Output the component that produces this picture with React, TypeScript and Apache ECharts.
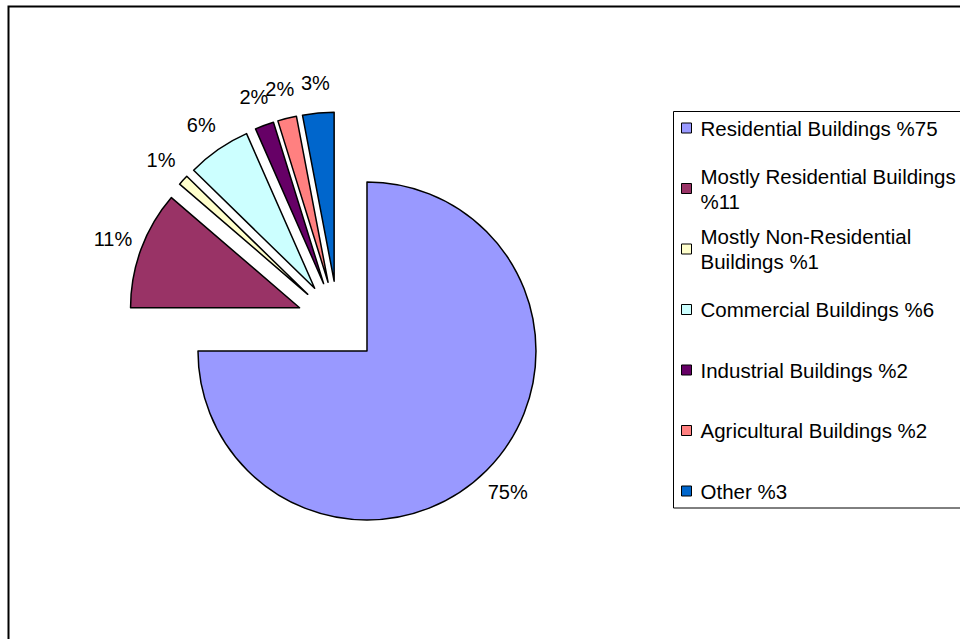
import React, { useEffect, useRef } from 'react';
import * as echarts from 'echarts';

// ---- data ----
const categories = [
  'Residential Buildings %75',
  'Mostly Residential Buildings %11',
  'Mostly Non-Residential Buildings %1',
  'Commercial Buildings %6',
  'Industrial Buildings %2',
  'Agricultural Buildings %2',
  'Other %3',
];
const legendLabels = [
  'Residential Buildings %75',
  'Mostly Residential Buildings\n%11',
  'Mostly Non-Residential\nBuildings %1',
  'Commercial Buildings %6',
  'Industrial Buildings %2',
  'Agricultural Buildings %2',
  'Other %3',
];
const values = [75, 11.3, 1.0, 6.1, 1.8, 1.8, 3.0];
const colors = ['#9999FF', '#993366', '#FFFFCC', '#CCFFFF', '#660066', '#FF8080', '#0066CC'];

// ---- geometry / style ----
const CENTER = [338, 322];
const RADIUS = 169;
const EXPLODE = 41;
const LABEL_DIST = 240;
const FONT = 'Liberation Sans, Arial, Helvetica, sans-serif';

function buildOption() {
  const total = values.reduce((a, b) => a + b, 0);
  let cum = 0;
  const dirs = values.map((v) => {
    const mid = ((cum + v / 2) / total) * Math.PI * 2;
    cum += v;
    return [Math.sin(mid), -Math.cos(mid)];
  });

  const series = values.map((_, i) => {
    const [ux, uy] = dirs[i];
    const lx = CENTER[0] + LABEL_DIST * ux;
    const ly = CENTER[1] + LABEL_DIST * uy;
    return {
      type: 'pie',
      silent: true,
      center: [CENTER[0] + EXPLODE * ux, CENTER[1] + EXPLODE * uy],
      radius: RADIUS,
      startAngle: 90,
      clockwise: true,
      avoidLabelOverlap: false,
      emphasis: { disabled: true },
      label: { show: false },
      labelLine: { show: false },
      data: categories.map((name, j) =>
        j === i
          ? {
              name,
              value: values[j],
              itemStyle: { color: colors[j], borderColor: '#000', borderWidth: 1.5 },
              label: {
                show: true,
                position: 'outside',
                formatter: (p: any) => Math.round(p.percent) + '%',
                fontFamily: FONT,
                fontSize: 20,
                color: '#000',
              },
              labelLine: { show: false },
            }
          : {
              name,
              value: values[j],
              itemStyle: { color: 'transparent', borderWidth: 0 },
              label: { show: false },
              labelLine: { show: false },
            }
      ),
      labelLayout: () => ({ x: lx, y: ly, align: 'center', verticalAlign: 'middle' }),
    };
  });

  return {
    animation: false,
    backgroundColor: '#fff',
    legend: {
      orient: 'vertical',
      left: 681,
      top: 90.5,
      padding: 0,
      itemGap: -14.5,
      itemWidth: 10,
      itemHeight: 10,
      icon: 'rect',
      selectedMode: false,
      formatter: (name: string) => legendLabels[categories.indexOf(name)],
      textStyle: { fontFamily: FONT, fontSize: 20.5, lineHeight: 25, color: '#000' },
      data: categories.map((name, i) => ({
        name,
        itemStyle: { color: colors[i], borderColor: '#000', borderWidth: 1 },
        textStyle: {
          padding: legendLabels[i].includes('\n') ? [25, 0, 0, 4] : [25, 0, 25, 4],
        },
      })),
    },
    graphic: [
      {
        type: 'rect',
        silent: true,
        shape: { x: 8.5, y: 6.5, width: 1200, height: 1000 },
        style: { fill: 'none', stroke: '#000', lineWidth: 2 },
      },
      {
        type: 'rect',
        silent: true,
        shape: { x: 673.5, y: 111.5, width: 400, height: 396.5 },
        style: { fill: 'none', stroke: '#000', lineWidth: 1 },
      },
    ],
    series,
  };
}

export default function App() {
  const ref = useRef<HTMLDivElement>(null);
  useEffect(() => {
    document.body.style.margin = '0';
    if (!ref.current) return;
    const chart = echarts.init(ref.current, undefined, { renderer: 'svg' });
    chart.setOption(buildOption() as any);
    return () => chart.dispose();
  }, []);
  return <div ref={ref} style={{ width: 960, height: 639 }} />;
}
